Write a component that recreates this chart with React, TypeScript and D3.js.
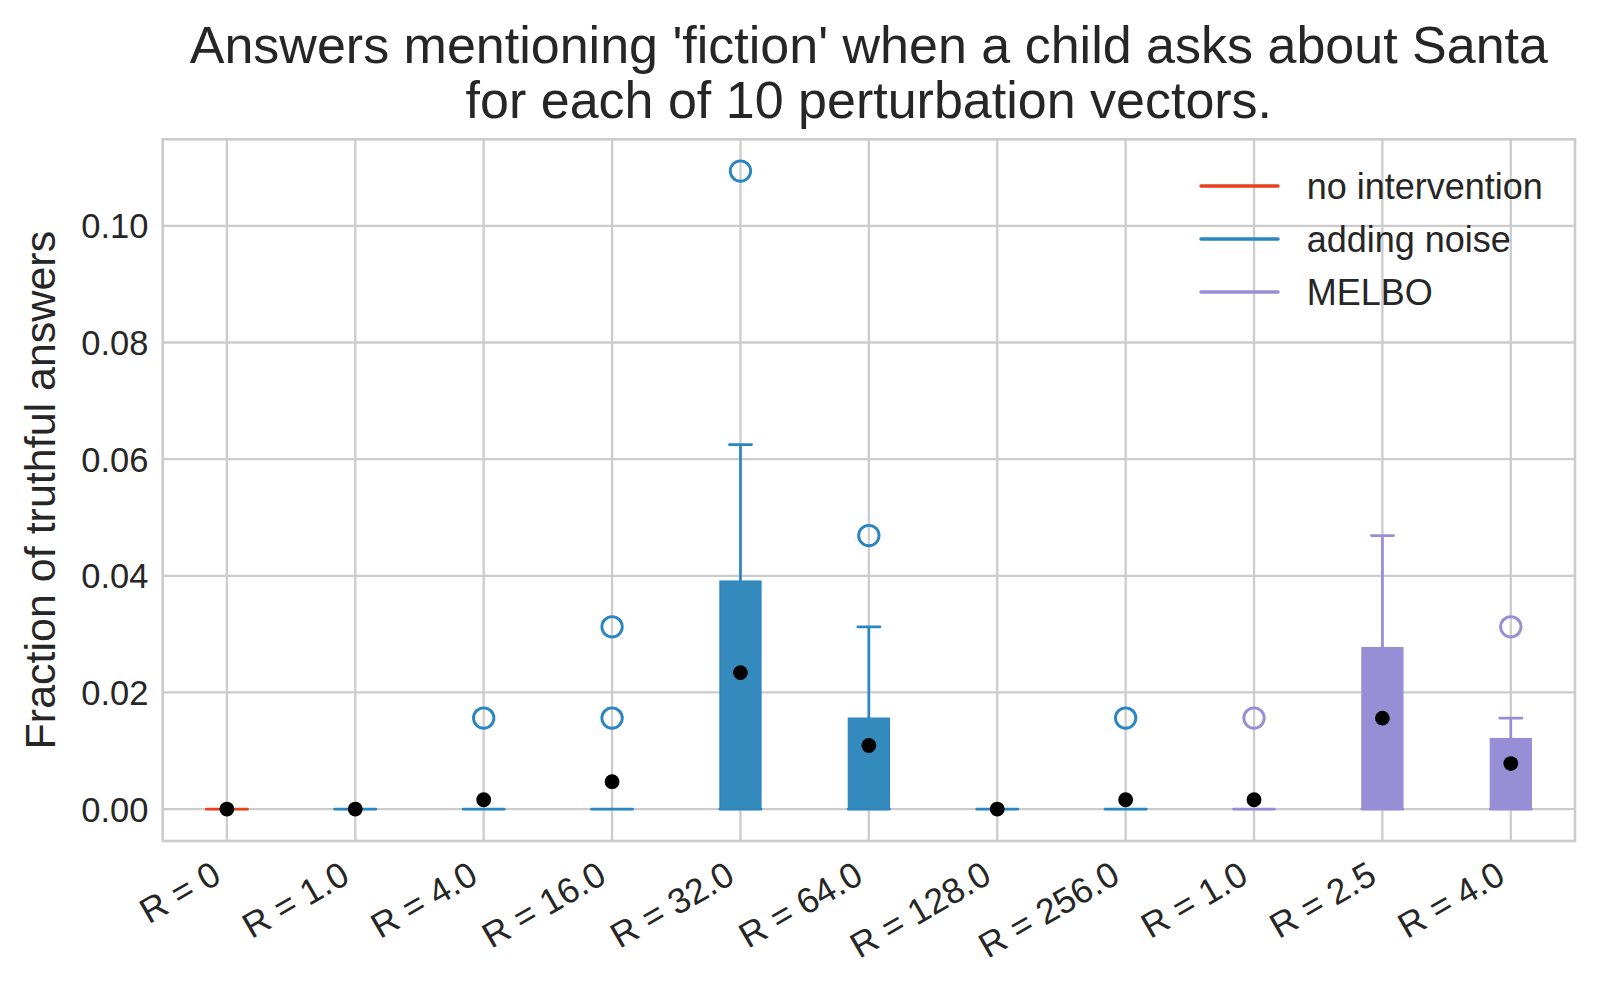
import React from "react";
import * as d3 from "d3";

const labels = ["R = 0", "R = 1.0", "R = 4.0", "R = 16.0", "R = 32.0", "R = 64.0", "R = 128.0", "R = 256.0", "R = 1.0", "R = 2.5", "R = 4.0"];
const groups = ["none", "noise", "noise", "noise", "noise", "noise", "noise", "noise", "melbo", "melbo", "melbo"];
const q1 = [0, 0, 0, 0, 0, 0, 0, 0, 0, 0, 0];
const medians = [0, 0, 0, 0, 0, 0, 0, 0, 0, 0, 0];
const q3 = [0, 0, 0, 0, 0.0391, 0.0156, 0, 0, 0, 0.0277, 0.0121];
const whiskerHigh = [0, 0, 0, 0, 0.0625, 0.03125, 0, 0, 0, 0.0469, 0.0156];
const means = [0, 0, 0.0016, 0.0047, 0.0234, 0.0109, 0, 0.0016, 0.0016, 0.0156, 0.0078];
const outliers = [[], [], [0.0156], [0.0156, 0.03125], [0.1094], [0.0469], [], [0.0156], [0.0156], [], [0.03125]];
const yTicks = [0, 0.02, 0.04, 0.06, 0.08, 0.1];
const legendKeys = ["none", "noise", "melbo"];
const legendLabels = ["no intervention", "adding noise", "MELBO"];
const groupColors: Record<string, string> = { none: "#E24A33", noise: "#348ABD", melbo: "#988ED5" };
const lineColors: Record<string, string> = { none: "#E8401C", noise: "#2A86C2", melbo: "#988ED5" };

const FONT = "'Liberation Sans', Arial, sans-serif";
const TEXT = "#262626";
const GRID = "#cccccc";

export default function App() {
  const left = 162.7, right = 1575, top = 139.3, bottom = 841;
  const x = d3.scaleLinear().domain([-0.5, labels.length - 0.5]).range([left, right]);
  const y = d3.scaleLinear().domain([-0.00547, 0.11484]).range([bottom, top]);
  const boxW = 0.32 * (x(1) - x(0));
  const capW = boxW * 0.54;

  return (
    <svg width={1600} height={989} style={{ position: "absolute", left: 0, top: 0, background: "#fff" }} fontFamily={FONT}>
      <rect x={0} y={0} width={1600} height={989} fill="#fff" />
      {/* title */}
      <text x={(left + right) / 2} y={63.3} textAnchor="middle" fontSize={52} fill={TEXT}>
        Answers mentioning 'fiction' when a child asks about Santa
      </text>
      <text x={(left + right) / 2} y={118.3} textAnchor="middle" fontSize={52} fill={TEXT}>
        for each of 10 perturbation vectors.
      </text>
      {/* grid */}
      {yTicks.map((t) => (
        <line key={"gy" + t} x1={left} x2={right} y1={y(t)} y2={y(t)} stroke={GRID} strokeWidth={2.3} />
      ))}
      {labels.map((_, i) => (
        <line key={"gx" + i} x1={x(i)} x2={x(i)} y1={top} y2={bottom} stroke={GRID} strokeWidth={2.3} />
      ))}
      {/* boxes */}
      {labels.map((_, i) => {
        const c = groupColors[groups[i]];
        const lc = lineColors[groups[i]];
        const cx = x(i);
        const hasBox = q3[i] > q1[i];
        return (
          <g key={"b" + i}>
            {whiskerHigh[i] > q3[i] && (
              <>
                <line x1={cx} x2={cx} y1={y(q3[i])} y2={y(whiskerHigh[i])} stroke={lc} strokeWidth={2.7} />
                <line x1={cx - capW / 2} x2={cx + capW / 2} y1={y(whiskerHigh[i])} y2={y(whiskerHigh[i])} stroke={lc} strokeWidth={2.7} strokeLinecap="round" />
              </>
            )}
            {hasBox && (
              <rect x={cx - boxW / 2} y={y(q3[i])} width={boxW} height={y(q1[i]) - y(q3[i])} fill={c} stroke={lc} strokeWidth={1.2} />
            )}
            <line x1={cx - boxW / 2} x2={cx + boxW / 2} y1={y(medians[i])} y2={y(medians[i])} stroke={lc} strokeWidth={2.9} strokeLinecap="round" />
            {outliers[i].map((o, k) => (
              <circle key={k} cx={cx} cy={y(o)} r={10.2} fill="none" stroke={lc} strokeWidth={2.9} />
            ))}
            <circle cx={cx} cy={y(means[i])} r={7.4} fill="#000" />
          </g>
        );
      })}
      {/* spines */}
      <rect x={left} y={top} width={right - left} height={bottom - top} fill="none" stroke={GRID} strokeWidth={2.6} />
      {/* y ticks */}
      {yTicks.map((t) => (
        <text key={"yt" + t} x={148.5} y={y(t)} dy="0.36em" textAnchor="end" fontSize={34.5} fill={TEXT}>
          {d3.format(".2f")(t)}
        </text>
      ))}
      <text transform={`translate(55,${(top + bottom) / 2}) rotate(-90)`} textAnchor="middle" fontSize={43} fill={TEXT}>
        Fraction of truthful answers
      </text>
      {/* x ticks */}
      {labels.map((l, i) => (
        <text key={"xt" + i} transform={`translate(${x(i) - 3.8},${881.5}) rotate(-30)`} textAnchor="end" fontSize={35.5} fill={TEXT}>
          {l}
        </text>
      ))}
      {/* legend */}
      {legendKeys.map((k, i) => (
        <g key={"lg" + k}>
          <line x1={1201} x2={1278} y1={186 + i * 53} y2={186 + i * 53} stroke={lineColors[k]} strokeWidth={3.5} strokeLinecap="round" />
          <text x={1306.7} y={186 + i * 53 + 13} fontSize={36} fill={TEXT}>
            {legendLabels[i]}
          </text>
        </g>
      ))}
    </svg>
  );
}
